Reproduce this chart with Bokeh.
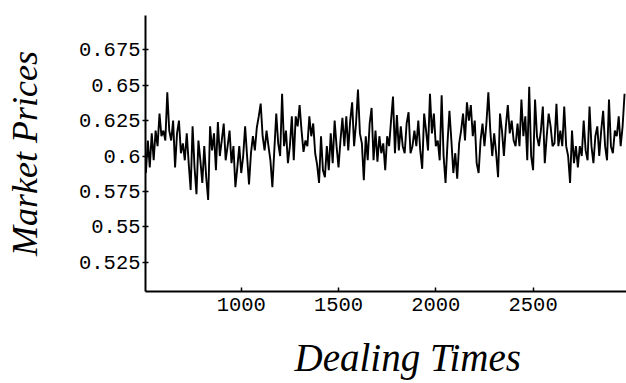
from bokeh.plotting import figure
from bokeh.models import FixedTicker, Range1d, Title
from bokeh.embed import file_html
from bokeh.resources import INLINE

# Market prices, one value every 10 dealing times from 510
prices_510_850 = [0.588, 0.611, 0.592, 0.616, 0.597, 0.618, 0.607, 0.630, 0.614, 0.618,
                  0.611, 0.645, 0.618, 0.611, 0.625, 0.592, 0.616, 0.625, 0.602, 0.609,
                  0.597, 0.616, 0.595, 0.576, 0.621, 0.592, 0.573, 0.611, 0.597, 0.581,
                  0.607, 0.585, 0.569, 0.621, 0.604]
prices_860_1200 = [0.616, 0.590, 0.624, 0.600, 0.611, 0.623, 0.597, 0.607, 0.618, 0.595,
                   0.607, 0.578, 0.592, 0.607, 0.588, 0.600, 0.621, 0.600, 0.580, 0.602,
                   0.614, 0.604, 0.620, 0.628, 0.637, 0.614, 0.604, 0.618, 0.607, 0.597,
                   0.578, 0.604, 0.630, 0.609, 0.600]
prices_1210_1550 = [0.644, 0.607, 0.618, 0.595, 0.607, 0.628, 0.597, 0.628, 0.621, 0.636,
                    0.618, 0.603, 0.611, 0.607, 0.628, 0.614, 0.623, 0.602, 0.594, 0.581,
                    0.614, 0.590, 0.585, 0.607, 0.590, 0.616, 0.595, 0.625, 0.607, 0.592,
                    0.611, 0.627, 0.607, 0.628, 0.604]
prices_1560_1900 = [0.625, 0.638, 0.607, 0.623, 0.647, 0.616, 0.609, 0.583, 0.614, 0.597,
                    0.623, 0.634, 0.597, 0.618, 0.596, 0.614, 0.602, 0.609, 0.590, 0.614,
                    0.607, 0.625, 0.642, 0.602, 0.629, 0.604, 0.621, 0.607, 0.602, 0.623,
                    0.631, 0.602, 0.607, 0.618, 0.607]
prices_1910_2250 = [0.625, 0.604, 0.591, 0.630, 0.618, 0.604, 0.644, 0.616, 0.630, 0.607,
                    0.611, 0.597, 0.643, 0.600, 0.581, 0.609, 0.632, 0.611, 0.588, 0.602,
                    0.584, 0.609, 0.618, 0.630, 0.611, 0.638, 0.625, 0.636, 0.614, 0.625,
                    0.595, 0.588, 0.611, 0.623, 0.607]
prices_2260_2600 = [0.623, 0.645, 0.618, 0.600, 0.616, 0.602, 0.585, 0.630, 0.618, 0.600,
                    0.621, 0.636, 0.616, 0.625, 0.611, 0.607, 0.623, 0.607, 0.640, 0.614,
                    0.628, 0.597, 0.649, 0.600, 0.590, 0.640, 0.614, 0.607, 0.618, 0.635,
                    0.595, 0.614, 0.630, 0.621, 0.607]
prices_2610_2970 = [0.609, 0.637, 0.607, 0.618, 0.607, 0.635, 0.607, 0.600, 0.581, 0.618,
                    0.595, 0.607, 0.592, 0.607, 0.600, 0.625, 0.604, 0.597, 0.635, 0.607,
                    0.595, 0.614, 0.621, 0.600, 0.618, 0.632, 0.607, 0.597, 0.640, 0.607,
                    0.602, 0.618, 0.614, 0.628, 0.607, 0.621, 0.644]

prices = (prices_510_850 + prices_860_1200 + prices_1210_1550 + prices_1560_1900
          + prices_1910_2250 + prices_2260_2600 + prices_2610_2970)
first_time = 510
time_step = 10
dealing_times = [first_time + time_step * i for i in range(len(prices))]

y_ticks = [0.525, 0.55, 0.575, 0.6, 0.625, 0.65, 0.675]
y_tick_labels = ["0.525", "0.55", "0.575", "0.6", "0.625", "0.65", "0.675"]
x_ticks = [1000, 1500, 2000, 2500]
x_tick_labels = ["1000", "1500", "2000", "2500"]

p = figure(width=626, height=383, output_backend="svg", toolbar_location=None,
           x_range=Range1d(508, 2980), y_range=Range1d(0.5043, 0.6993),
           min_border_left=145, min_border_right=0, min_border_top=15, min_border_bottom=91)
p.outline_line_color = None
p.grid.visible = False
p.background_fill_color = "white"
p.border_fill_color = "white"

p.line(dealing_times, prices, line_color="black", line_width=1.9)

p.yaxis.ticker = FixedTicker(ticks=y_ticks, minor_ticks=[])
p.yaxis.major_label_overrides = dict(zip(y_ticks, y_tick_labels))
p.xaxis.ticker = FixedTicker(ticks=x_ticks, minor_ticks=[])
p.xaxis.major_label_overrides = dict(zip(x_ticks, x_tick_labels))

for ax in (p.xaxis[0], p.yaxis[0]):
    ax.axis_line_color = "black"
    ax.axis_line_width = 2
    ax.major_tick_line_color = "black"
    ax.major_tick_line_width = 1.5
    ax.minor_tick_line_color = None
    ax.major_label_text_font = "Liberation Mono"
    ax.major_label_text_font_size = "20.5px"
    ax.major_label_text_color = "black"

p.yaxis.major_tick_in = 3
p.yaxis.major_tick_out = 3
p.yaxis.major_label_standoff = 2
p.xaxis.major_tick_in = 4
p.xaxis.major_tick_out = 0
p.xaxis.major_label_standoff = 6

p.yaxis.axis_label = "Market Prices"
p.yaxis.axis_label_text_font = "Liberation Serif"
p.yaxis.axis_label_text_font_style = "italic"
p.yaxis.axis_label_text_font_size = "36px"
p.yaxis.axis_label_text_color = "black"
p.yaxis.axis_label_standoff = 31

xlab = Title(text="Dealing Times", align="left", offset=149,
             text_font="Liberation Serif", text_font_style="italic",
             text_font_size="39px", text_color="black", standoff=10,
             padding=dict(left=0, right=0, top=15, bottom=0))
p.add_layout(xlab, "below")

open("out.html", "w").write(file_html(p, INLINE))
